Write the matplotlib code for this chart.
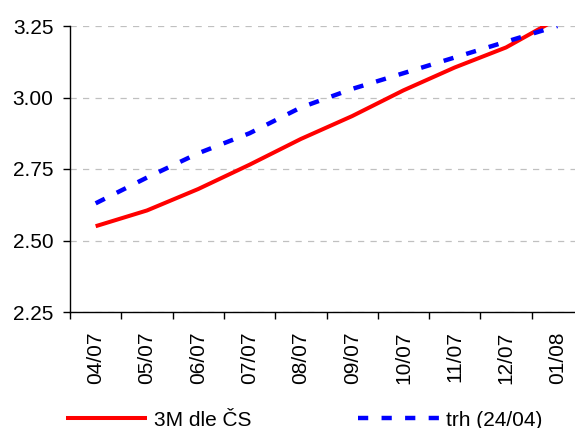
import numpy as np
import matplotlib
matplotlib.use("Agg")
import matplotlib.pyplot as plt

plt.rcParams['font.family'] = ['Liberation Sans', 'DejaVu Sans']

months = ['04/07', '05/07', '06/07', '07/07', '08/07', '09/07', '10/07', '11/07', '12/07', '01/08']
cs_3m = [2.55, 2.605, 2.68, 2.765, 2.855, 2.935, 3.025, 3.105, 3.175, 3.275]
market = [2.63, 2.72, 2.805, 2.875, 2.965, 3.03, 3.085, 3.14, 3.195, 3.25]
yticks = [2.25, 2.50, 2.75, 3.00, 3.25]

fs = 15
fig = plt.figure(figsize=(5.75, 4.28), dpi=100)
ax = fig.add_axes([70/575, 1-312/428, 513/575, 286/428])

x = np.arange(len(months))
ax.plot(x, cs_3m, color='#ff0000', lw=2.9, label='3M dle ČS', solid_capstyle='butt')
ax.plot(x, market, color='#0000ff', lw=3.2, dashes=(2.3, 3.0), label='trh (24/04)')

ax.set_ylim(2.25, 3.25)
ax.set_xlim(-0.5, len(months) - 0.5)
ax.set_yticks(yticks)
ax.set_yticklabels(['%.2f' % v for v in yticks], fontsize=fs)
ax.yaxis.grid(True, color='#c0c0c0', ls=(0, (5, 5)), lw=0.9)
ax.set_axisbelow(True)

ax.set_xticks(np.arange(-0.5, len(months), 1.0))
ax.set_xticklabels([])
ax.set_xticks(x, minor=True)
ax.set_xticklabels(months, minor=True, rotation=90, fontsize=fs)
ax.tick_params(axis='x', which='minor', length=0, pad=14)
ax.tick_params(axis='x', which='major', length=5, direction='out', width=1)
ax.tick_params(axis='y', length=5, direction='out', width=1, pad=7)

for s in ['top', 'right']:
    ax.spines[s].set_visible(False)
for s in ['left', 'bottom']:
    ax.spines[s].set_linewidth(1.0)

fig.legend(loc='center left', bbox_to_anchor=(66/575, 1-420/428), ncol=2, frameon=False,
           fontsize=fs, handlelength=3.9, handletextpad=0.34, columnspacing=5.1,
           borderpad=0, borderaxespad=0)

fig.savefig('out.png', dpi=100)
